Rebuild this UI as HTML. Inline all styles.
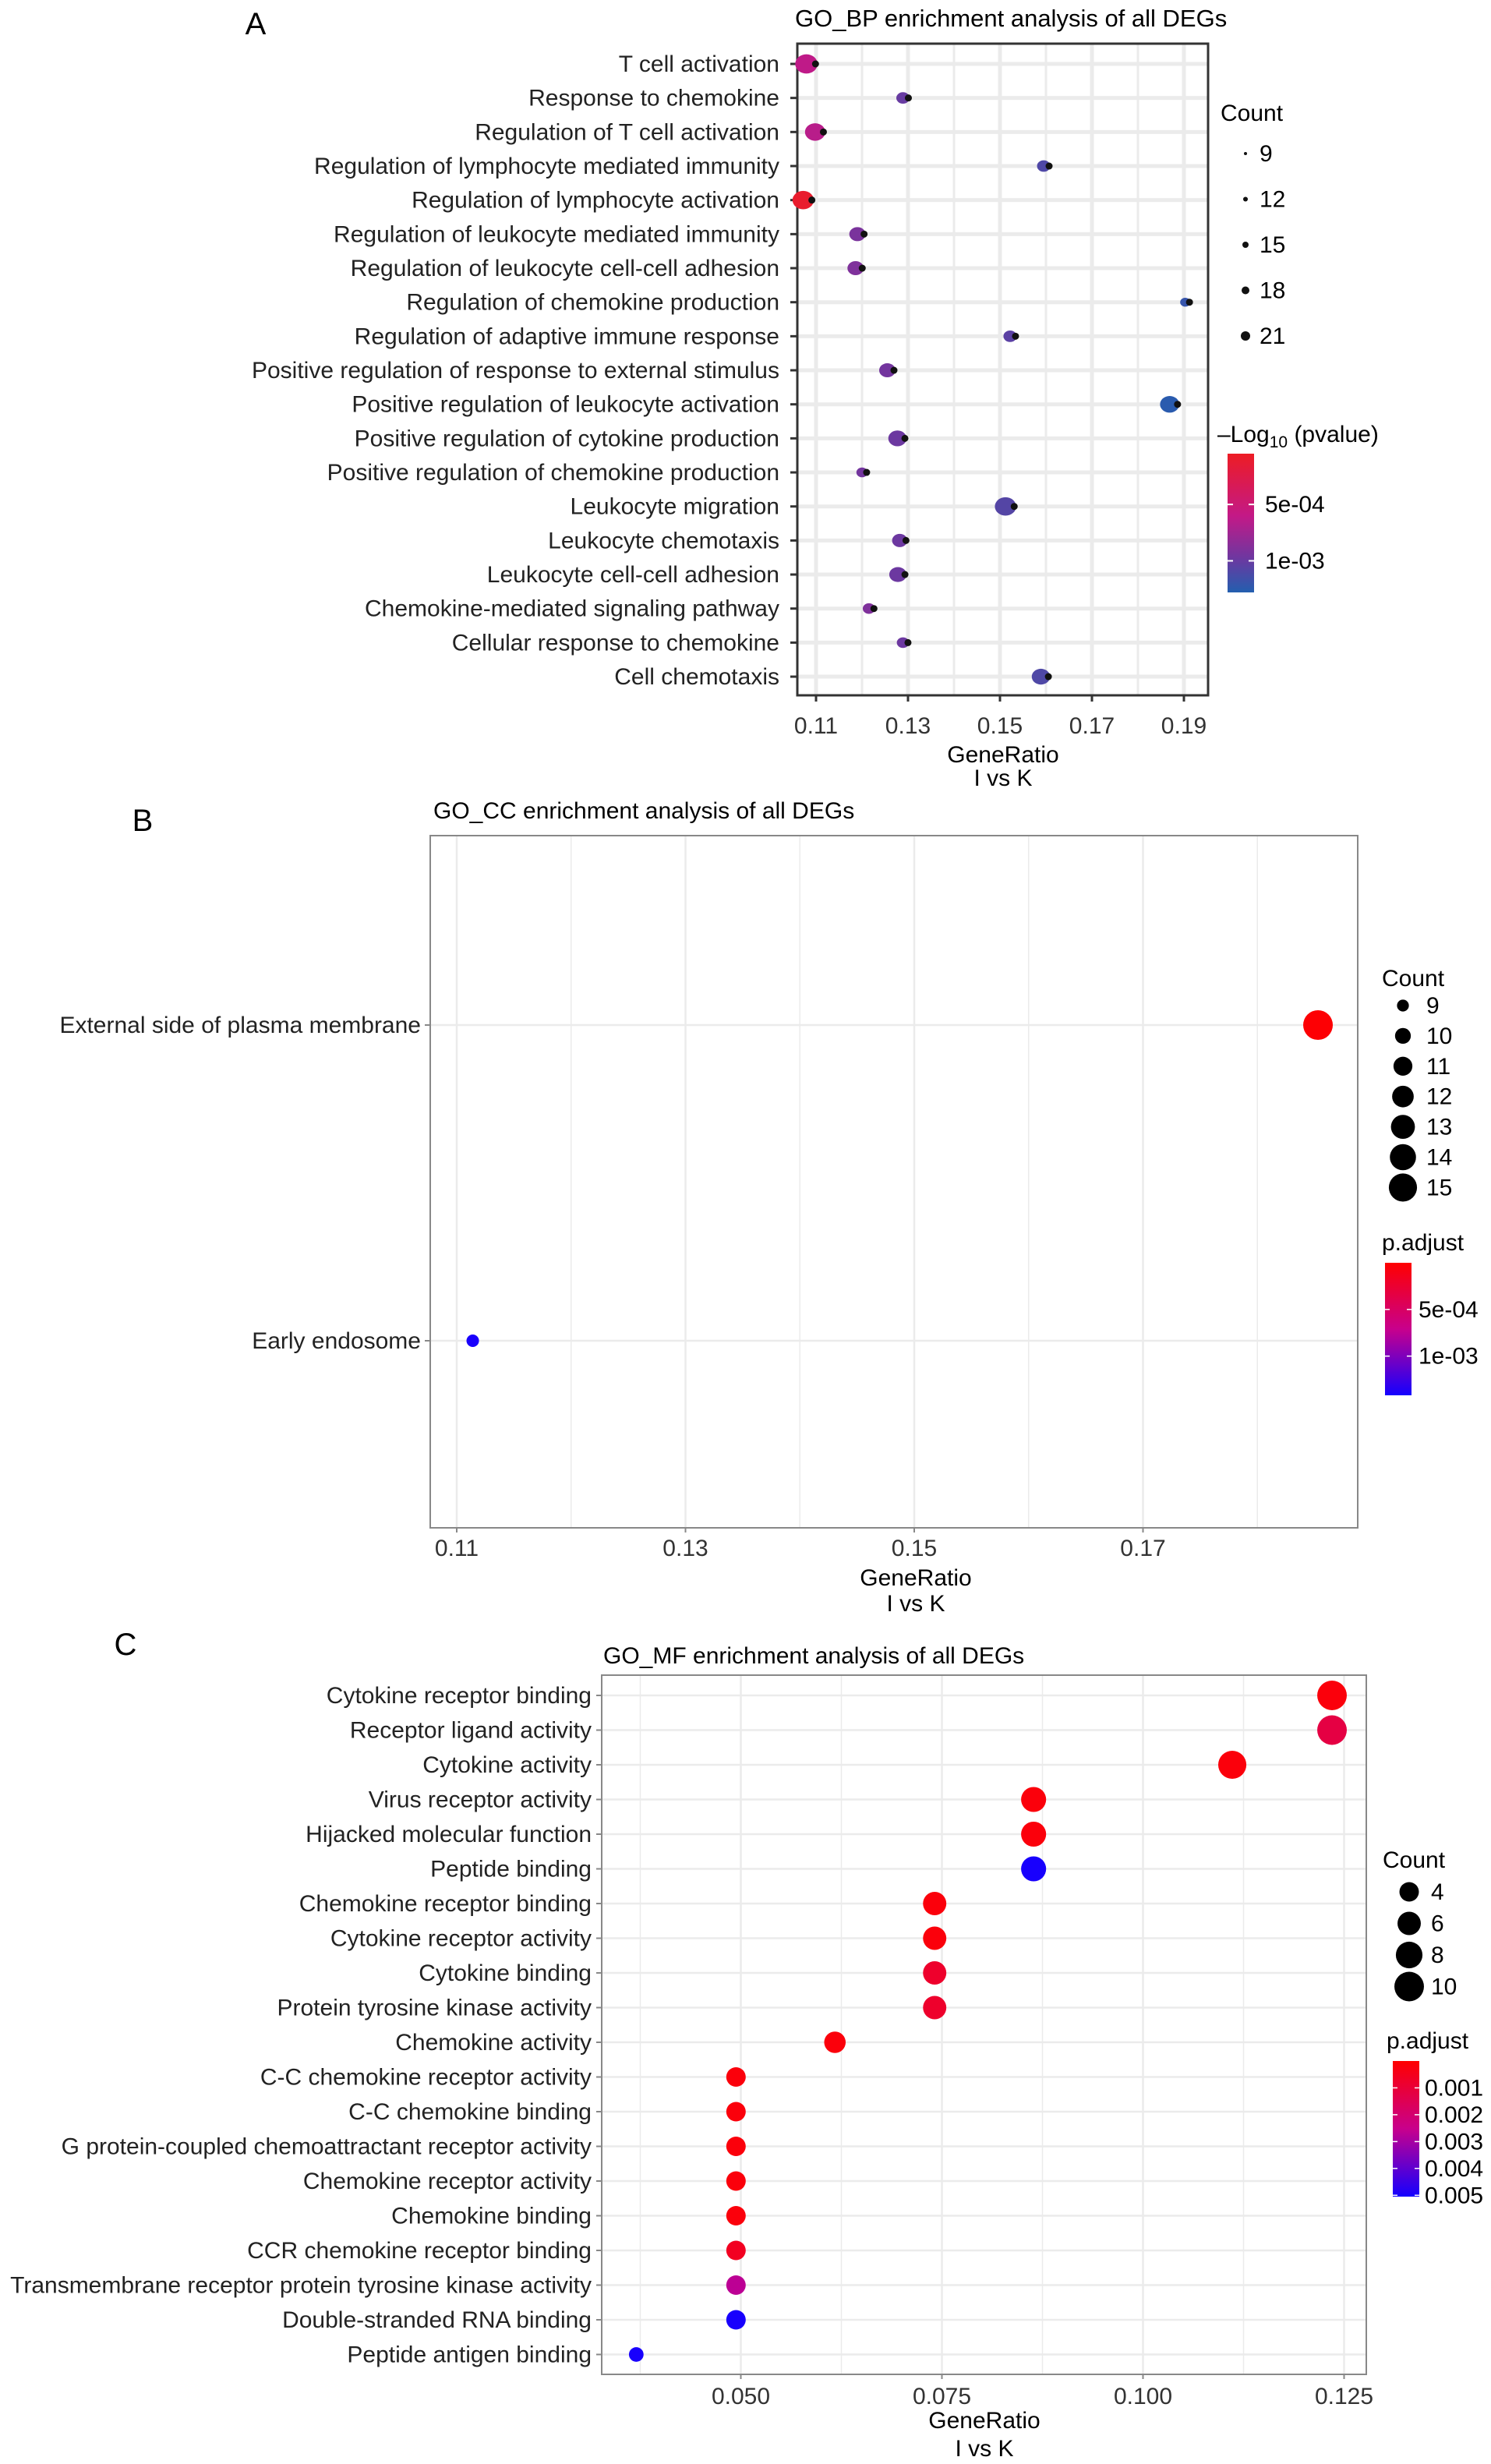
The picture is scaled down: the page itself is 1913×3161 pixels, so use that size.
<!DOCTYPE html>
<html><head><meta charset="utf-8"><style>
html,body{margin:0;padding:0;background:#fff;}
svg{display:block;font-family:"Liberation Sans",Arial,sans-serif;}
</style></head><body>
<svg id="fig" width="1913" height="3161" viewBox="0 0 1913 3161" xmlns="http://www.w3.org/2000/svg"></svg>
<script>
// ---------- Panel A data ----------
const aTerms = ["T cell activation","Response to chemokine","Regulation of T cell activation","Regulation of lymphocyte mediated immunity","Regulation of lymphocyte activation","Regulation of leukocyte mediated immunity","Regulation of leukocyte cell-cell adhesion","Regulation of chemokine production","Regulation of adaptive immune response","Positive regulation of response to external stimulus","Positive regulation of leukocyte activation","Positive regulation of cytokine production","Positive regulation of chemokine production","Leukocyte migration","Leukocyte chemotaxis","Leukocyte cell-cell adhesion","Chemokine-mediated signaling pathway","Cellular response to chemokine","Cell chemotaxis"];
const aRatio = [0.1079,0.1289,0.1098,0.1595,0.1072,0.1190,0.1186,0.1903,0.1522,0.1255,0.1869,0.1277,0.1200,0.1512,0.1282,0.1278,0.1215,0.1289,0.1589];
const aCount = [21,12,19,12,20,15,15,9,12,15,18,17,10,20,14,16,11,11,17];
const aPval = [6.2e-4,1.0e-3,6.5e-4,1.1e-3,1.0e-4,9.2e-4,9.0e-4,1.2e-3,1.05e-3,9.5e-4,1.25e-3,9.8e-4,9.5e-4,1.08e-3,9.8e-4,9.8e-4,9.0e-4,9.8e-4,1.1e-3];
const aTicks = [0.11,0.13,0.15,0.17,0.19];
const aLegCounts = [9,12,15,18,21];
// ---------- Panel B data ----------
const bTerms = ["External side of plasma membrane","Early endosome"];
const bRatio = [0.1853,0.1114];
const bCount = [15,9];
const bPadj = [2e-5,1.40e-3];
const bTicks = [0.11,0.13,0.15,0.17];
const bLegCounts = [9,10,11,12,13,14,15];
// ---------- Panel C data ----------
const cTerms = ["Cytokine receptor binding","Receptor ligand activity","Cytokine activity","Virus receptor activity","Hijacked molecular function","Peptide binding","Chemokine receptor binding","Cytokine receptor activity","Cytokine binding","Protein tyrosine kinase activity","Chemokine activity","C-C chemokine receptor activity","C-C chemokine binding","G protein-coupled chemoattractant receptor activity","Chemokine receptor activity","Chemokine binding","CCR chemokine receptor binding","Transmembrane receptor protein tyrosine kinase activity","Double-stranded RNA binding","Peptide antigen binding"];
const cRatio = [0.1235,0.1235,0.1111,0.0864,0.0864,0.0864,0.0741,0.0741,0.0741,0.0741,0.0617,0.0494,0.0494,0.0494,0.0494,0.0494,0.0494,0.0494,0.0494,0.0370];
const cCount = [10,10,9,7,7,7,6,6,6,6,5,4,4,4,4,4,4,4,4,2];
const cPadj = [2e-4,1.2e-3,2e-4,2e-4,2e-4,5.0e-3,2e-4,2e-4,8e-4,8e-4,2e-4,2e-4,2e-4,2e-4,2e-4,2e-4,6e-4,2.7e-3,5.0e-3,5.0e-3];
const cTicks = [0.050,0.075,0.100,0.125];
const cLegCounts = [4,6,8,10];
const cBarTicks = [0.001,0.002,0.003,0.004,0.005];

const NS="http://www.w3.org/2000/svg";
const FS=30;
const svg=document.getElementById('fig');
function el(tag,attrs,parent,txt){const e=document.createElementNS(NS,tag);for(const k in attrs)e.setAttribute(k,attrs[k]);if(txt!==undefined)e.textContent=txt;(parent||svg).appendChild(e);return e;}
function lerp(a,b,t){return a+(b-a)*t;}
function grad(stops,t){t=Math.max(0,Math.min(1,t));for(let i=0;i<stops.length-1;i++){const [p0,c0]=stops[i],[p1,c1]=stops[i+1];if(t<=p1){const u=(t-p0)/(p1-p0);return `rgb(${Math.round(lerp(c0[0],c1[0],u))},${Math.round(lerp(c0[1],c1[1],u))},${Math.round(lerp(c0[2],c1[2],u))})`;}}const c=stops[stops.length-1][1];return `rgb(${c})`;}
const stopsA=[[0,[237,28,36]],[0.45,[195,25,135]],[0.75,[110,55,160]],[1,[35,95,175]]];
const stopsBC=[[0,[255,0,0]],[0.5,[200,0,140]],[1,[20,0,255]]];
function defGrad(id,stops){let d=svg.querySelector('defs')||el('defs',{});const g=el('linearGradient',{id:id,x1:0,y1:0,x2:0,y2:1},d);stops.forEach(s=>el('stop',{offset:s[0],'stop-color':`rgb(${s[1]})`},g));}
defGrad('gA',stopsA);defGrad('gBC',stopsBC);

function fmt(v,d){return v.toFixed(d);}

// ================= Panel A =================
(function(){
 const L=1023,R=1550,T=56,B=892;
 const xs=v=>1047+(v-0.11)/0.08*472;
 const ys=i=>82+i*43.67;
 const g=el('g',{});  
 let t=el('text',{x:328,y:44,'font-size':40,'text-anchor':'middle'},g,'A');  
 t=el('text',{x:1020,y:34,'font-size':31},g,'GO_BP enrichment analysis of all DEGs');  
 for(let v=0.10;v<=0.2;v+=0.01){const x=xs(v);if(x<L||x>R)continue;const l=el('line',{x1:x,x2:x,y1:T,y2:B,stroke:'#ebebeb','stroke-width':Math.round(v*100)%2===1?5:3},g);}
 aTerms.forEach((n,i)=>{const l=el('line',{x1:L,x2:R,y1:ys(i),y2:ys(i),stroke:'#ebebeb','stroke-width':5},g);});
 const f=el('rect',{x:L,y:T,width:R-L,height:B-T,fill:'none',stroke:'#333','stroke-width':3},g);
 aTerms.forEach((n,i)=>{const y=ys(i);
  const tl=el('text',{x:1000,y:y+10,'font-size':FS,'text-anchor':'end',fill:'#222'},g,n);
  el('line',{x1:1014,x2:L,y1:y,y2:y,stroke:'#333','stroke-width':3},g);
  const r=6+(aCount[i]-9)/12*7, x=xs(aRatio[i]);
  const c=el('ellipse',{cx:x,cy:y,rx:r*1.1,ry:r*0.95,fill:grad(stopsA,(aPval[i]-5e-5)/(1.28e-3-5e-5))},g);
  const d=el('circle',{cx:x+r*0.9,cy:y,r:4.5,fill:'#111'},g);
 });
 aTicks.forEach(v=>{const x=xs(v);el('line',{x1:x,x2:x,y1:B,y2:B+8,stroke:'#333','stroke-width':3},g);const tl=el('text',{x:x,y:941,'font-size':FS,'text-anchor':'middle',fill:'#333'},g,fmt(v,2));});
 t=el('text',{x:1287,y:978,'font-size':FS,'text-anchor':'middle'},g,'GeneRatio');
 t=el('text',{x:1287,y:1008,'font-size':FS,'text-anchor':'middle'},g,'I vs K');
 t=el('text',{x:1566,y:155,'font-size':FS},g,'Count');
 aLegCounts.forEach((c,i)=>{const y=197+i*58.5;const d=el('circle',{cx:1598,cy:y,r:2+(c-9)/12*4,fill:'#111'},g);const tl=el('text',{x:1616,y:y+10,'font-size':FS},g,String(c));});
 t=el('text',{x:1562,y:567,'font-size':FS},g,'');
 el('tspan',{},t,'\u2013Log');el('tspan',{'font-size':21,dy:7},t,'10');el('tspan',{dy:-7},t,' (pvalue)');
 const cb=el('rect',{x:1575,y:582,width:34,height:178,fill:'url(#gA)'},g);
 [[5e-4,'5e-04'],[1e-3,'1e-03']].forEach(([v,s])=>{const y=582+(v-5e-5)/(1.28e-3-5e-5)*178;el('line',{x1:1575,x2:1582,y1:y,y2:y,stroke:'#fff','stroke-width':2},g);el('line',{x1:1602,x2:1609,y1:y,y2:y,stroke:'#fff','stroke-width':2},g);const tl=el('text',{x:1623,y:y+10,'font-size':FS},g,s);});
})();

// ================= Panel B =================
(function(){
 const L=552,R=1742,T=1072,B=1960;
 const xs=v=>586+(v-0.11)/0.02*293.5;
 const ys=[1315,1720];
 const g=el('g',{});
 let t=el('text',{x:183,y:1066,'font-size':40,'text-anchor':'middle'},g,'B');
 t=el('text',{x:556,y:1050,'font-size':30},g,'GO_CC enrichment analysis of all DEGs');
 for(let k=0;k<=8;k++){const v=0.11+k*0.01;const x=xs(v);if(x>R)continue;const l=el('line',{x1:x,x2:x,y1:T,y2:B,stroke:'#ebebeb','stroke-width':k%2===0?2.5:1.5},g);}
 ys.forEach(y=>{const l=el('line',{x1:L,x2:R,y1:y,y2:y,stroke:'#ebebeb','stroke-width':2.5},g);});
 const f=el('rect',{x:L,y:T,width:R-L,height:B-T,fill:'none',stroke:'#888','stroke-width':2},g);
 bTerms.forEach((n,i)=>{const y=ys[i];const tl=el('text',{x:540,y:y+10,'font-size':FS,'text-anchor':'end',fill:'#222'},g,n);
  el('line',{x1:545,x2:L,y1:y,y2:y,stroke:'#888','stroke-width':2},g);
  const r=Math.sqrt(Math.max(30,49.5*bCount[i]-381));const c=el('circle',{cx:xs(bRatio[i]),cy:y,r:r,fill:grad(stopsBC,bPadj[i]/1.42e-3)},g);});
 bTicks.forEach(v=>{const x=xs(v);el('line',{x1:x,x2:x,y1:B,y2:B+6,stroke:'#888','stroke-width':2},g);const tl=el('text',{x:x,y:1996,'font-size':FS,'text-anchor':'middle',fill:'#333'},g,fmt(v,2));});
 t=el('text',{x:1175,y:2034,'font-size':FS,'text-anchor':'middle'},g,'GeneRatio');
 t=el('text',{x:1175,y:2067,'font-size':FS,'text-anchor':'middle'},g,'I vs K');
 t=el('text',{x:1773,y:1265,'font-size':FS},g,'Count');
 bLegCounts.forEach((c,i)=>{const y=1290+i*38.9;const d=el('circle',{cx:1800,cy:y,r:Math.sqrt(Math.max(30,49.5*c-381))*0.95,fill:'#000'},g);const tl=el('text',{x:1830,y:y+10,'font-size':FS},g,String(c));});
 t=el('text',{x:1773,y:1604,'font-size':FS},g,'p.adjust');
 const cb=el('rect',{x:1777,y:1620,width:34,height:170,fill:'url(#gBC)'},g);
 [[5e-4,'5e-04'],[1e-3,'1e-03']].forEach(([v,s])=>{const y=1620+v/1.42e-3*170;el('line',{x1:1777,x2:1783,y1:y,y2:y,stroke:'#fff','stroke-width':1.5},g);el('line',{x1:1805,x2:1811,y1:y,y2:y,stroke:'#fff','stroke-width':1.5},g);const tl=el('text',{x:1820,y:y+10,'font-size':FS},g,s);});
})();

// ================= Panel C =================
(function(){
 const L=772,R=1753,T=2149,B=3046;
 const xs=v=>950.5+(v-0.05)/0.025*258;
 const ys=i=>2175+i*44.5;
 const g=el('g',{});
 let t=el('text',{x:161,y:2123,'font-size':40,'text-anchor':'middle'},g,'C');
 t=el('text',{x:774,y:2134,'font-size':30},g,'GO_MF enrichment analysis of all DEGs');
 for(let k=-2;k<=8;k++){const v=0.05+k*0.0125;const x=xs(v);if(x<L||x>R)continue;const l=el('line',{x1:x,x2:x,y1:T,y2:B,stroke:'#ebebeb','stroke-width':k%2===0?2.5:1.5},g);}
 cTerms.forEach((n,i)=>{const l=el('line',{x1:L,x2:R,y1:ys(i),y2:ys(i),stroke:'#ebebeb','stroke-width':2.5},g);});
 const f=el('rect',{x:L,y:T,width:R-L,height:B-T,fill:'none',stroke:'#888','stroke-width':2},g);
 cTerms.forEach((n,i)=>{const y=ys(i);const tl=el('text',{x:759,y:y+10,'font-size':FS,'text-anchor':'end',fill:'#222'},g,n);
  el('line',{x1:765,x2:L,y1:y,y2:y,stroke:'#888','stroke-width':2},g);
  const r=Math.sqrt(20+34*cCount[i]);const c=el('circle',{cx:xs(cRatio[i]),cy:y,r:r,fill:grad(stopsBC,cPadj[i]/5.05e-3)},g);});
 cTicks.forEach(v=>{const x=xs(v);el('line',{x1:x,x2:x,y1:B,y2:B+6,stroke:'#888','stroke-width':2},g);const tl=el('text',{x:x,y:3084,'font-size':FS,'text-anchor':'middle',fill:'#333'},g,fmt(v,3));});
 t=el('text',{x:1263,y:3115,'font-size':FS,'text-anchor':'middle'},g,'GeneRatio');
 t=el('text',{x:1263,y:3151,'font-size':FS,'text-anchor':'middle'},g,'I vs K');
 t=el('text',{x:1774,y:2396,'font-size':FS},g,'Count');
 cLegCounts.forEach((c,i)=>{const y=2427+i*40.5;const d=el('circle',{cx:1808,cy:y,r:Math.sqrt(20+34*c),fill:'#000'},g);const tl=el('text',{x:1836,y:y+10,'font-size':FS},g,String(c));});
 t=el('text',{x:1779,y:2628,'font-size':FS},g,'p.adjust');
 const cb=el('rect',{x:1787,y:2644,width:34,height:174,fill:'url(#gBC)'},g);
 cBarTicks.forEach(v=>{const y=2644+v/5.05e-3*174;el('line',{x1:1787,x2:1793,y1:y,y2:y,stroke:'#fff','stroke-width':1.5},g);el('line',{x1:1815,x2:1821,y1:y,y2:y,stroke:'#fff','stroke-width':1.5},g);const tl=el('text',{x:1828,y:y+10,'font-size':FS},g,fmt(v,3));});
})();
</script>
</body></html>
